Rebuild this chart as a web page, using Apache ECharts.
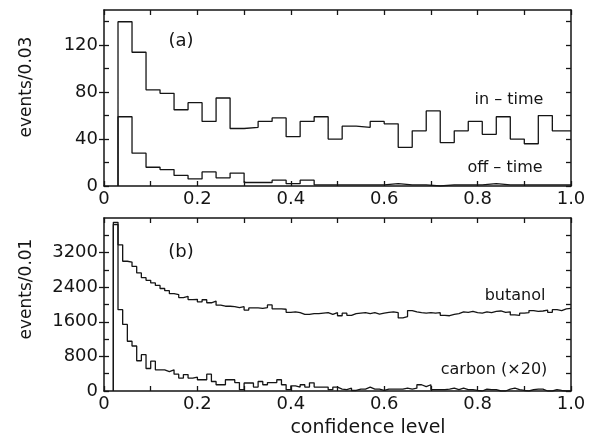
<!DOCTYPE html>
<html>
<head>
<meta charset="utf-8">
<script src="https://cdn.jsdelivr.net/npm/echarts@6/dist/echarts.min.js"></script>
<style>
  html, body { margin: 0; padding: 0; background: #fff; }
  #chart { width: 593px; height: 440px; }
</style>
</head>
<body>
<div id="chart"></div>
<script>
/* ---------------- Data ---------------- */
// panel (a): bins of width 0.03, first bin starts at 0.03
const topBinStart = 0.03;
const topBinWidth = 0.03;
const inTime = [140, 114, 82, 79, 65, 71, 55, 75, 49, 50, 55, 58, 42, 55, 59, 40,
  51, 50, 55, 53, 33, 47, 64, 37, 47, 55, 44, 59, 40, 36, 60, 47];
const offTime = [59, 28, 16, 14, 9, 6, 12, 7, 11, 3, 3, 5, 2, 5, 1, 1,
  1, 1, 1, 2, 1, 1, 0, 1, 1, 1, 2, 1, 1, 1, 1, 1];

// panel (b): bins of width 0.01, first bin starts at 0.02
const botBinStart = 0.02;
const botBinWidth = 0.01;
const butanol = [3900, 3380, 3000, 2980, 2880, 2730, 2620, 2560, 2500, 2440,
  2370, 2320, 2250, 2230, 2160, 2190, 2115, 2120, 2060, 2110,
  2040, 2080, 1985, 1960, 1960, 1950, 1930, 1950, 1870, 1920,
  1920, 1910, 1930, 1990, 1900, 1900, 1890, 1820, 1830, 1810,
  1770, 1770, 1790, 1790, 1800, 1810, 1770, 1810, 1740, 1800,
  1750, 1790, 1800, 1810, 1790, 1810, 1780, 1800, 1820, 1830,
  1810, 1690, 1720, 1860, 1830, 1810, 1800, 1810, 1800, 1810,
  1750, 1740, 1770, 1790, 1830, 1820, 1840, 1810, 1800, 1830,
  1810, 1840, 1850, 1820, 1830, 1760, 1750, 1800, 1810, 1860,
  1840, 1850, 1870, 1820, 1880, 1860, 1900, 1910];
const carbon = [3850, 1880, 1540, 1150, 1040, 700, 840, 520, 690, 490,
  490, 450, 490, 390, 300, 380, 300, 320, 260, 260,
  390, 220, 145, 145, 260, 260, 195, 30, 185, 185,
  90, 220, 145, 195, 195, 260, 145, 30, 120, 90,
  145, 90, 190, 90, 90, 90, 30, 90, 45, 30,
  65, 12, 45, 45, 90, 45, 45, 12, 45, 45,
  45, 45, 65, 45, 65, 145, 100, 145, 30, 30,
  30, 45, 65, 30, 65, 30, 30, 12, 0, 45,
  30, 30, 0, 0, 45, 65, 30, 12, 0, 30,
  45, 45, 0, 0, 30, 12, 0, 0];

const xLabels = [0, 0.2, 0.4, 0.6, 0.8, 1.0];
const topLabels = [0, 40, 80, 120];
const botLabels = [0, 800, 1600, 2400, 3200];

/* ---------------- Helpers ---------------- */
const INK = "#151515";
const FONT = "DejaVu Sans";

// step-histogram points: rise from 0 at first edge, run to x = 1.0
function histPoints(values, start, width) {
  const pts = [[start, 0]];
  values.forEach((v, k) => pts.push([+(start + k * width).toFixed(4), v]));
  pts.push([1.0, values[values.length - 1]]);
  return pts;
}

function range(step, max) {
  const out = [];
  for (let v = 0; v <= max + 1e-9; v += step) out.push(+v.toFixed(4));
  return out;
}

function histSeries(data, g) {
  return {
    type: "line",
    step: "end",
    xAxisIndex: g * 2,
    yAxisIndex: g * 3,
    data,
    showSymbol: false,
    silent: true,
    clip: true,
    lineStyle: { color: INK, width: 1.3 }
  };
}

const frameLine = { show: true, onZero: false, lineStyle: { color: INK, width: 1.5 } };

function xAxes(g) {
  const base = {
    type: "value",
    gridIndex: g,
    min: 0,
    max: 1,
    splitLine: { show: false },
    axisLine: frameLine,
    axisTick: { show: true, inside: true, length: 5, customValues: range(0.1, 1),
      lineStyle: { color: INK, width: 1.3 } }
  };
  return [
    {
      ...base,
      position: "bottom",
      axisLabel: {
        customValues: xLabels,
        color: INK,
        fontFamily: FONT,
        fontSize: 18,
        margin: 4,
        formatter: v => (v === 0 ? "0" : v.toFixed(1))
      }
    },
    { ...base, position: "top", axisLabel: { show: false } }
  ];
}

function yAxes(g, max, labels, minorStep) {
  const base = {
    type: "value",
    gridIndex: g,
    min: 0,
    max,
    splitLine: { show: false }
  };
  const minor = range(minorStep, max - 1);
  return [
    {
      ...base,
      position: "left",
      axisLine: frameLine,
      axisTick: { show: true, inside: true, length: 5, customValues: minor,
        lineStyle: { color: INK, width: 1.3 } },
      axisLabel: { customValues: labels, color: INK, fontFamily: FONT, fontSize: 18, margin: 6,
        formatter: v => String(v) }
    },
    {
      ...base,
      position: "left",
      axisLine: { show: false },
      axisTick: { show: true, inside: false, length: 5, customValues: labels.slice(1),
        lineStyle: { color: INK, width: 1.3 } },
      axisLabel: { show: false }
    },
    {
      ...base,
      position: "right",
      axisLine: frameLine,
      axisTick: { show: true, inside: true, length: 5, customValues: minor,
        lineStyle: { color: INK, width: 1.3 } },
      axisLabel: { show: false }
    }
  ];
}

function note(text, x, y, size, rotation) {
  return {
    type: "text",
    x, y,
    rotation: rotation || 0,
    silent: true,
    style: {
      text,
      fill: INK,
      font: `${size}px "${FONT}"`,
      textAlign: "center",
      textVerticalAlign: "middle"
    }
  };
}

/* ---------------- Chart ---------------- */
const chart = echarts.init(document.getElementById("chart"), null, { renderer: "canvas" });

const option = {
  animation: false,
  backgroundColor: "#fff",
  grid: [
    { left: 104, right: 22, top: 10, height: 176 },
    { left: 104, right: 22, top: 218, height: 173 }
  ],
  xAxis: [...xAxes(0), ...xAxes(1)],
  yAxis: [
    ...yAxes(0, 150, topLabels, 20),
    ...yAxes(1, 4000, botLabels, 400)
  ],
  series: [
    histSeries(histPoints(inTime, topBinStart, topBinWidth), 0),
    histSeries(histPoints(offTime, topBinStart, topBinWidth), 0),
    histSeries(histPoints(butanol, botBinStart, botBinWidth), 1),
    histSeries(histPoints(carbon, botBinStart, botBinWidth), 1)
  ],
  graphic: [
    // axis titles
    note("events/0.03", 27, 87, 17, Math.PI / 2),
    note("events/0.01", 27, 289, 17, Math.PI / 2),
    note("confidence level", 368, 428, 19),
    // panel annotations
    note("(a)", 181, 41, 18),
    note("(b)", 181, 252, 18),
    note("in – time", 509, 100, 16),
    note("off – time", 505, 168, 16),
    note("butanol", 515, 296, 16),
    note("carbon (×20)", 494, 370, 16)
  ]
};

chart.setOption(option);
</script>
</body>
</html>
